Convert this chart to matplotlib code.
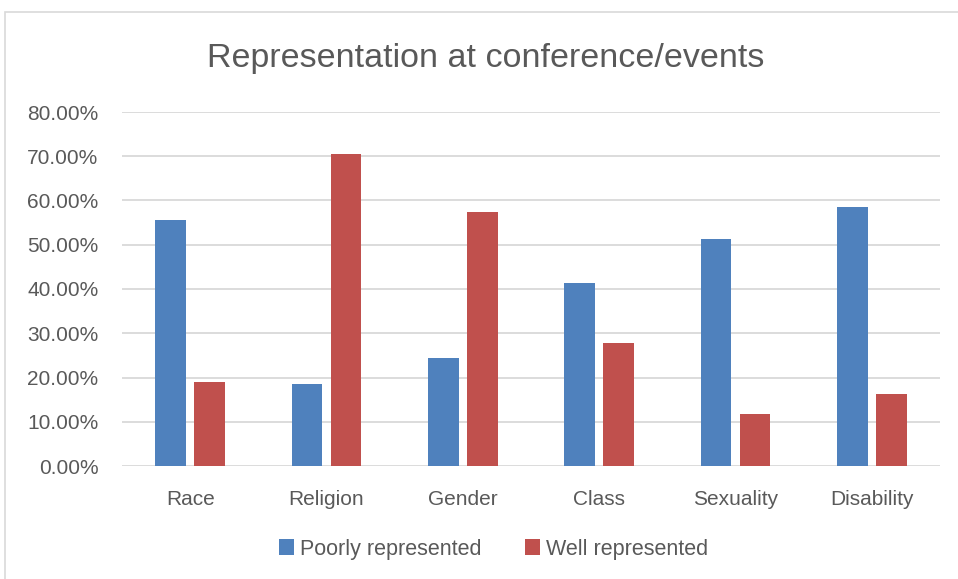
import numpy as np
import matplotlib.pyplot as plt
from matplotlib.patches import Rectangle
from matplotlib.ticker import FuncFormatter

categories = ['Race', 'Religion', 'Gender', 'Class', 'Sexuality', 'Disability']
poorly = [0.557, 0.185, 0.243, 0.414, 0.513, 0.585]
well = [0.1905, 0.706, 0.574, 0.279, 0.1175, 0.162]

plt.rcParams['font.family'] = ['Liberation Sans', 'DejaVu Sans']
grey = '#595959'

fig = plt.figure(figsize=(9.58, 5.79), dpi=100)
fig.patches.append(Rectangle((5/958, -0.01), 1.0, 1 - 12/579 + 0.01,
                             transform=fig.transFigure, fill=False,
                             edgecolor='#d9d9d9', linewidth=1.2))
ax = fig.add_axes([122/958, 1 - 466/579, (940 - 122)/958, (466 - 112)/579])

x = np.arange(len(categories))
w = 0.224
off = 0.143
ax.bar(x - off, poorly, w, color='#4f81bd', label='Poorly represented', zorder=3)
ax.bar(x + off, well, w, color='#c0504d', label='Well represented', zorder=3)

ax.set_xlim(-0.5, len(categories) - 0.5)
ax.set_ylim(0, 0.8)
ax.set_yticks(np.arange(0, 0.81, 0.1))
ax.yaxis.set_major_formatter(FuncFormatter(lambda v, p: '%.2f%%' % (v * 100)))
ax.set_xticks(x)
ax.set_xticklabels(categories)
ax.grid(axis='y', color='#d9d9d9', linewidth=1.3, zorder=0)
for s in ax.spines.values():
    s.set_visible(False)
ax.tick_params(axis='both', length=0, labelsize=15, labelcolor=grey)
ax.tick_params(axis='y', pad=17)
ax.tick_params(axis='x', pad=17)

fig.text(0.507, 1 - 58/579, 'Representation at conference/events', ha='center',
         va='center', fontsize=24.5, color=grey)
fig.legend(loc='center', bbox_to_anchor=(0.515, 1 - 549/579), ncol=2, frameon=False,
           fontsize=15.5, labelcolor=grey, handlelength=0.7, handleheight=0.7,
           handletextpad=0.3, columnspacing=2.0)

fig.savefig('out.png', dpi=100)
